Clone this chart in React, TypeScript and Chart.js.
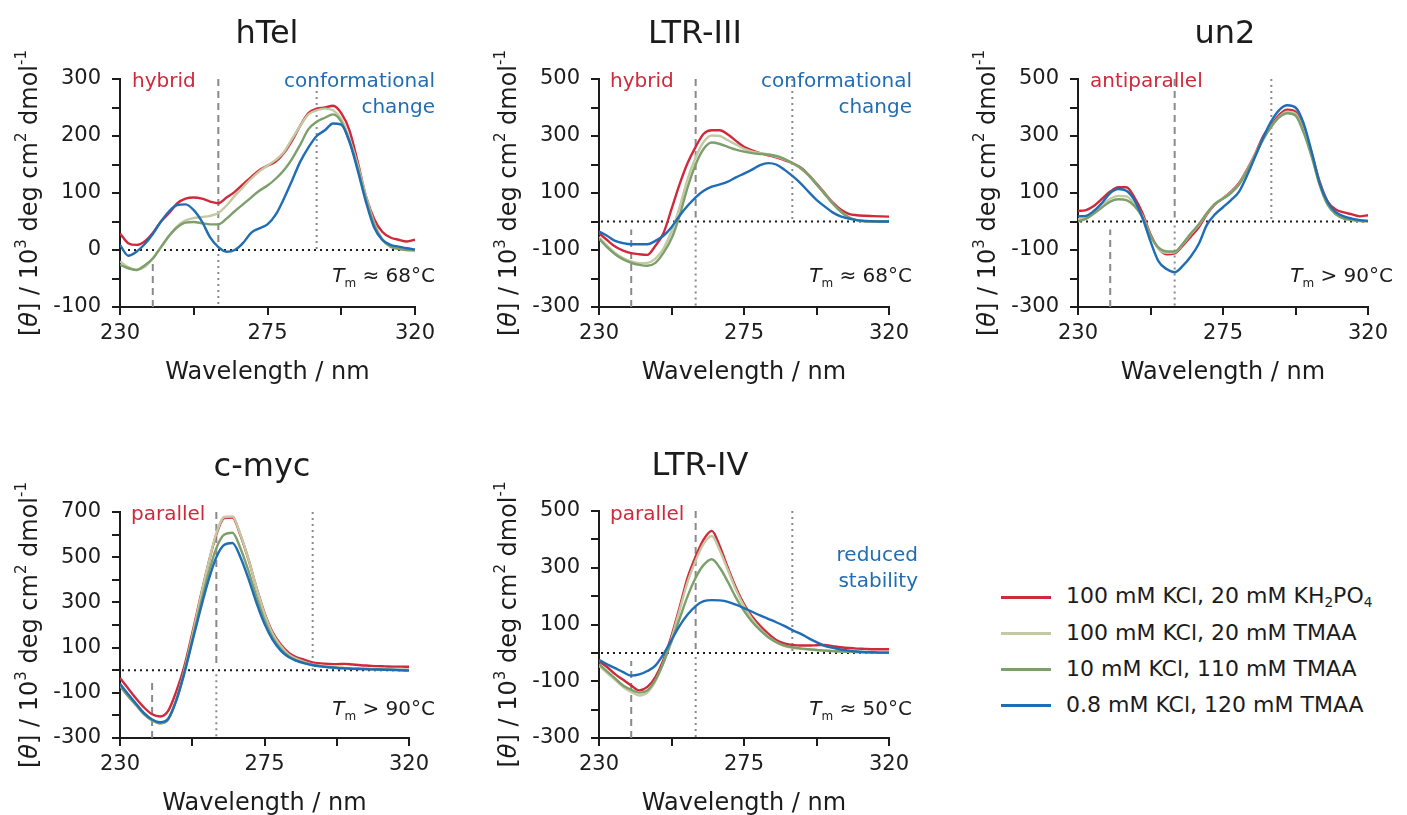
import React, { useEffect, useRef } from 'react';
import { Chart, registerables } from 'chart.js';

Chart.register(...registerables);

const FONT = '"DejaVu Sans", "Liberation Sans", sans-serif';
const INK = '#1c1c1c';
const GUIDE = '#8a8a8a';
const RED_TXT = '#d0293b';
const BLUE_TXT = '#1f6db5';

// ---------- data ----------
const WAVELENGTH = [230, 232.5, 235, 237.5, 240, 242.5, 245, 247.5, 250, 252.5, 255, 257.5, 260, 262.5, 265, 267.5, 270, 272.5, 275, 277.5, 280, 282.5, 285, 287.5, 290, 292.5, 295, 297.5, 300, 302.5, 305, 307.5, 310, 312.5, 315, 317.5, 320];

const SERIES_LABELS = ['100 mM KCl, 20 mM KH_2PO_4', '100 mM KCl, 20 mM TMAA', '10 mM KCl, 110 mM TMAA', '0.8 mM KCl, 120 mM TMAA'];
const SERIES_COLORS = ['#d0293b', '#c3c9a2', '#7c9f6c', '#1f6db5'];

// hTel
const HTEL_KH2PO4 = [29, 12, 9, 15, 30, 50, 65, 82, 90, 92, 90, 85, 82, 92, 102, 115, 128, 140, 148, 155, 170, 192, 218, 240, 248, 250, 253, 240, 210, 155, 95, 55, 32, 22, 18, 15, 18];
const HTEL_TMAA20 = [-20, -30, -35, -30, -15, 5, 25, 42, 52, 56, 58, 60, 65, 78, 95, 110, 125, 138, 148, 158, 172, 195, 218, 238, 245, 248, 245, 230, 195, 150, 95, 48, 20, 8, 2, 0, -2];
const HTEL_TMAA110 = [-26, -32, -35, -27, -15, 5, 25, 40, 48, 49, 47, 45, 45, 55, 68, 80, 92, 104, 113, 125, 140, 160, 185, 212, 225, 232, 238, 225, 190, 145, 90, 45, 18, 6, 2, 0, 0];
const HTEL_TMAA120 = [9, -10, -3, 10, 28, 50, 68, 79, 80, 70, 50, 22, 5, -3, 0, 12, 30, 38, 45, 62, 90, 122, 155, 180, 200, 210, 222, 220, 190, 140, 85, 40, 18, 9, 6, 3, 1];

// LTR-III
const LTR3_KH2PO4 = [-41, -65, -88, -102, -111, -115, -117, -85, -41, 43, 130, 205, 262, 308, 320, 320, 305, 283, 262, 250, 240, 232, 225, 215, 205, 190, 165, 133, 100, 67, 42, 27, 22, 20, 19, 18, 17];
const LTR3_TMAA20 = [-55, -85, -110, -128, -140, -146, -145, -130, -95, -35, 50, 150, 225, 280, 302, 300, 285, 270, 255, 245, 240, 235, 228, 218, 205, 188, 163, 130, 97, 63, 35, 15, 5, 1, 0, 0, 0];
const LTR3_TMAA110 = [-60, -90, -115, -133, -145, -152, -155, -145, -110, -60, 20, 120, 200, 255, 277, 272, 262, 252, 245, 240, 237, 235, 230, 220, 205, 188, 163, 130, 97, 63, 35, 15, 5, 1, 0, 0, 0];
const LTR3_TMAA120 = [-35, -50, -68, -76, -80, -80, -80, -68, -50, -20, 20, 55, 85, 108, 122, 130, 140, 155, 168, 182, 198, 205, 200, 182, 160, 135, 105, 76, 53, 32, 18, 10, 5, 2, 1, 0, 0];

// un2
const UN2_KH2PO4 = [37, 40, 55, 80, 105, 120, 120, 85, 30, -45, -95, -115, -112, -85, -53, -20, 25, 60, 82, 105, 135, 183, 238, 300, 338, 375, 392, 385, 325, 240, 140, 70, 42, 32, 25, 18, 22];
const UN2_TMAA20 = [8, 15, 35, 60, 80, 90, 88, 62, 20, -50, -95, -110, -108, -80, -45, -12, 28, 62, 82, 102, 132, 180, 235, 292, 333, 368, 385, 378, 318, 232, 132, 62, 30, 15, 8, 4, 3];
const UN2_TMAA110 = [0, 10, 28, 50, 70, 78, 75, 55, 15, -50, -92, -105, -105, -78, -42, -10, 30, 62, 80, 100, 130, 178, 232, 288, 333, 366, 380, 372, 313, 228, 128, 58, 25, 10, 5, 2, 0];
const UN2_TMAA120 = [18, 20, 38, 66, 100, 114, 108, 75, 13, -70, -140, -167, -178, -156, -123, -78, -12, 25, 50, 75, 105, 162, 228, 295, 352, 392, 408, 400, 345, 245, 135, 68, 33, 18, 10, 5, 2];

// c-myc
const CMYC_KH2PO4 = [-35, -80, -125, -165, -195, -205, -180, -95, 15, 163, 320, 470, 600, 673, 675, 597, 490, 366, 254, 169, 115, 78, 57, 46, 34, 30, 28, 27, 28, 25, 22, 20, 18, 17, 16, 16, 15];
const CMYC_TMAA20 = [-65, -110, -150, -190, -220, -235, -215, -130, -5, 150, 315, 470, 605, 678, 680, 600, 492, 365, 250, 162, 108, 70, 50, 36, 26, 20, 15, 12, 10, 8, 7, 6, 5, 4, 3, 2, 2];
const CMYC_TMAA110 = [-70, -115, -155, -195, -222, -235, -218, -135, -12, 135, 285, 425, 540, 600, 608, 540, 440, 325, 222, 145, 95, 62, 44, 32, 24, 18, 14, 11, 9, 7, 6, 5, 4, 3, 2, 1, 1];
const CMYC_TMAA120 = [-60, -105, -148, -190, -218, -230, -215, -135, -15, 125, 265, 395, 500, 555, 563, 500, 405, 298, 205, 135, 88, 58, 41, 30, 22, 17, 13, 10, 8, 6, 5, 4, 3, 2, 1, 0, -2];

// LTR-IV
const LTR4_KH2PO4 = [-30, -50, -75, -95, -115, -132, -120, -85, -25, 60, 160, 265, 340, 400, 430, 375, 300, 230, 172, 128, 95, 68, 45, 33, 28, 26, 26, 27, 28, 24, 20, 17, 15, 14, 13, 13, 13];
const LTR4_TMAA20 = [-45, -70, -95, -120, -138, -150, -140, -100, -35, 50, 150, 250, 325, 385, 412, 360, 292, 222, 165, 120, 85, 58, 38, 25, 18, 14, 12, 10, 8, 6, 5, 4, 3, 2, 2, 1, 1];
const LTR4_TMAA110 = [-40, -65, -90, -115, -130, -140, -132, -95, -35, 40, 120, 200, 265, 310, 330, 300, 250, 195, 148, 110, 80, 55, 38, 26, 20, 16, 13, 10, 8, 6, 5, 4, 3, 2, 2, 1, 1];
const LTR4_TMAA120 = [-25, -40, -54, -68, -80, -76, -64, -45, -5, 45, 95, 135, 165, 182, 186, 185, 180, 170, 158, 145, 132, 120, 108, 95, 80, 68, 52, 38, 25, 18, 12, 8, 5, 3, 2, 1, 1];

// ticks
const X_TICKS = [230, 252.5, 275, 297.5, 320];
const X_LABELS = [230, 275, 320];
const HTEL_Y_TICKS = [-100, -50, 0, 50, 100, 150, 200, 250, 300];
const HTEL_Y_LABELS = [-100, 0, 100, 200, 300];
const Y500_TICKS = [-300, -200, -100, 0, 100, 200, 300, 400, 500];
const Y500_LABELS = [-300, -100, 100, 300, 500];
const Y700_TICKS = [-300, -200, -100, 0, 100, 200, 300, 400, 500, 600, 700];
const Y700_LABELS = [-300, -100, 100, 300, 500, 700];

// reference wavelengths for guide lines
const DASHED_LOW = 240;
const DASHED_HIGH = 260;
const DOTTED_LOW = 260;
const DOTTED_HIGH = 290;

// ---------- text helpers ----------
type Seg = { t: string; it?: boolean; sub?: boolean; sup?: boolean };

function drawRich(ctx: CanvasRenderingContext2D, segs: Seg[], x: number, y: number, size: number, color: string, align: 'left' | 'right' | 'center') {
  const fontFor = (s: Seg) => `${s.it ? 'italic ' : ''}${s.sub || s.sup ? Math.round(size * 0.62) : size}px ${FONT}`;
  let total = 0;
  for (const s of segs) {
    ctx.font = fontFor(s);
    total += ctx.measureText(s.t).width;
  }
  let cx = align === 'left' ? x : align === 'right' ? x - total : x - total / 2;
  ctx.fillStyle = color;
  ctx.textAlign = 'left';
  ctx.textBaseline = 'alphabetic';
  for (const s of segs) {
    ctx.font = fontFor(s);
    const dy = s.sub ? size * 0.24 : s.sup ? -size * 0.45 : 0;
    ctx.fillText(s.t, cx, y + dy);
    cx += ctx.measureText(s.t).width;
  }
}

const Y_TITLE: Seg[] = [
  { t: '[' }, { t: 'θ', it: true }, { t: '] / 10' }, { t: '3', sup: true },
  { t: ' deg cm' }, { t: '2', sup: true }, { t: ' dmol' }, { t: '-1', sup: true },
];

type Note = { segs: Seg[]; color: string; anchor: 'left' | 'right'; dx: number; dy: number };

const tm = (rest: string): Seg[] => [{ t: 'T', it: true }, { t: 'm', sub: true }, { t: rest }];

type Panel = {
  key: string; title: string; series: number[][];
  yMin: number; yMax: number; yTicks: number[]; yLabels: number[];
  L: number; T: number; W: number; H: number; titleX: number; notes: Note[];
};

const PANELS: Panel[] = [
  {
    key: 'htel', title: 'hTel', series: [HTEL_KH2PO4, HTEL_TMAA20, HTEL_TMAA110, HTEL_TMAA120],
    yMin: -100, yMax: 300, yTicks: HTEL_Y_TICKS, yLabels: HTEL_Y_LABELS,
    L: 120, T: 79, W: 295, H: 228, titleX: 267,
    notes: [
      { segs: [{ t: 'hybrid' }], color: RED_TXT, anchor: 'left', dx: 12, dy: 8 },
      { segs: [{ t: 'conformational' }], color: BLUE_TXT, anchor: 'right', dx: 20, dy: 8 },
      { segs: [{ t: 'change' }], color: BLUE_TXT, anchor: 'right', dx: 20, dy: 34 },
      { segs: tm(' ≈ 68°C'), color: INK, anchor: 'right', dx: 20, dy: 203 },
    ],
  },
  {
    key: 'ltr3', title: 'LTR-III', series: [LTR3_KH2PO4, LTR3_TMAA20, LTR3_TMAA110, LTR3_TMAA120],
    yMin: -300, yMax: 500, yTicks: Y500_TICKS, yLabels: Y500_LABELS,
    L: 599, T: 79, W: 290, H: 228, titleX: 695,
    notes: [
      { segs: [{ t: 'hybrid' }], color: RED_TXT, anchor: 'left', dx: 11, dy: 8 },
      { segs: [{ t: 'conformational' }], color: BLUE_TXT, anchor: 'right', dx: 23, dy: 8 },
      { segs: [{ t: 'change' }], color: BLUE_TXT, anchor: 'right', dx: 23, dy: 34 },
      { segs: tm(' ≈ 68°C'), color: INK, anchor: 'right', dx: 23, dy: 203 },
    ],
  },
  {
    key: 'un2', title: 'un2', series: [UN2_KH2PO4, UN2_TMAA20, UN2_TMAA110, UN2_TMAA120],
    yMin: -300, yMax: 500, yTicks: Y500_TICKS, yLabels: Y500_LABELS,
    L: 1078, T: 79, W: 290, H: 228, titleX: 1225,
    notes: [
      { segs: [{ t: 'antiparallel' }], color: RED_TXT, anchor: 'left', dx: 12, dy: 8 },
      { segs: tm(' > 90°C'), color: INK, anchor: 'right', dx: 25, dy: 203 },
    ],
  },
  {
    key: 'cmyc', title: 'c-myc', series: [CMYC_KH2PO4, CMYC_TMAA20, CMYC_TMAA110, CMYC_TMAA120],
    yMin: -300, yMax: 700, yTicks: Y700_TICKS, yLabels: Y700_LABELS,
    L: 120, T: 512, W: 289, H: 226, titleX: 262,
    notes: [
      { segs: [{ t: 'parallel' }], color: RED_TXT, anchor: 'left', dx: 11, dy: 8 },
      { segs: tm(' > 90°C'), color: INK, anchor: 'right', dx: 26, dy: 203 },
    ],
  },
  {
    key: 'ltr4', title: 'LTR-IV', series: [LTR4_KH2PO4, LTR4_TMAA20, LTR4_TMAA110, LTR4_TMAA120],
    yMin: -300, yMax: 500, yTicks: Y500_TICKS, yLabels: Y500_LABELS,
    L: 599, T: 511, W: 290, H: 227, titleX: 700,
    notes: [
      { segs: [{ t: 'parallel' }], color: RED_TXT, anchor: 'left', dx: 11, dy: 9 },
      { segs: [{ t: 'reduced' }], color: BLUE_TXT, anchor: 'right', dx: 29, dy: 50 },
      { segs: [{ t: 'stability' }], color: BLUE_TXT, anchor: 'right', dx: 29, dy: 76 },
      { segs: tm(' ≈ 50°C'), color: INK, anchor: 'right', dx: 23, dy: 204 },
    ],
  },
];

const PAD_L = 40;
const Y_AXIS_W = 80;
const PAD_T = 79;
const PAD_R = 40;
const PAD_B = 95;
const X_AXIS_H = 40;
const LEGEND_Y = [597, 633, 669, 705];

function makePlugin(p: Panel) {
  return {
    id: 'deco_' + p.key,
    beforeDatasetsDraw(chart: any) {
      const { ctx, chartArea: a, scales } = chart;
      const x = scales.x, y = scales.y;
      const seg = (x1: number, y1: number, x2: number, y2: number) => {
        ctx.beginPath(); ctx.moveTo(x1, y1); ctx.lineTo(x2, y2); ctx.stroke();
      };
      ctx.save();
      ctx.beginPath();
      ctx.rect(a.left, a.top, a.right - a.left, a.bottom - a.top);
      ctx.clip();
      const y0 = y.getPixelForValue(0);
      ctx.lineWidth = 2;
      ctx.lineCap = 'butt';
      ctx.strokeStyle = INK;
      ctx.setLineDash([2, 4]);
      seg(a.left + 2, y0, a.right, y0);
      ctx.strokeStyle = GUIDE;
      ctx.setLineDash([7, 5]);
      const xl = x.getPixelForValue(DASHED_LOW);
      const xh = x.getPixelForValue(DASHED_HIGH);
      seg(xl, a.bottom, xl, y0 + 8);
      seg(xh, a.top, xh, y0 - 4);
      ctx.setLineDash([2, 4]);
      const dl = x.getPixelForValue(DOTTED_LOW);
      const dh = x.getPixelForValue(DOTTED_HIGH);
      seg(dl, y0 + 4, dl, a.bottom);
      seg(dh, a.top, dh, y0);
      ctx.restore();
    },
    afterDraw(chart: any) {
      const { ctx, chartArea: a } = chart;
      const ox = p.L - PAD_L - Y_AXIS_W;
      ctx.save();
      ctx.fillStyle = INK;
      ctx.textAlign = 'center';
      ctx.textBaseline = 'alphabetic';
      ctx.font = `32px ${FONT}`;
      ctx.fillText(p.title, p.titleX - ox, a.top - 36);
      ctx.font = `24px ${FONT}`;
      ctx.fillText('Wavelength / nm', (a.left + a.right) / 2, a.bottom + 72);
      for (const n of p.notes) {
        const xx = n.anchor === 'left' ? a.left + n.dx : a.right + n.dx;
        drawRich(ctx, n.segs, xx, a.top + n.dy, 20, n.color, n.anchor);
      }
      ctx.translate(a.left - 83, (a.top + a.bottom) / 2);
      ctx.rotate(-Math.PI / 2);
      drawRich(ctx, Y_TITLE, 0, 0, 24, INK, 'center');
      ctx.restore();
    },
  };
}

function buildConfig(p: Panel): any {
  const datasets = p.series
    .map((arr, i) => ({
      label: SERIES_LABELS[i],
      data: WAVELENGTH.map((x, j) => ({ x, y: arr[j] })),
      borderColor: SERIES_COLORS[i],
      backgroundColor: SERIES_COLORS[i],
      borderWidth: 2.4,
      pointRadius: 0,
      fill: false,
      cubicInterpolationMode: 'monotone',
    }))
    .reverse();
  const axisCommon = {
    grid: { drawOnChartArea: false, drawTicks: true, tickLength: 8, color: INK, lineWidth: 2 },
    border: { display: true, color: INK, width: 2 },
  };
  return {
    type: 'line',
    data: { datasets },
    options: {
      responsive: false,
      animation: false,
      devicePixelRatio: 1,
      events: [],
      layout: { padding: { left: PAD_L, top: PAD_T, right: PAD_R, bottom: PAD_B - X_AXIS_H } },
      plugins: { legend: { display: false }, tooltip: { enabled: false }, title: { display: false } },
      scales: {
        x: {
          type: 'linear', min: 230, max: 320,
          afterBuildTicks: (s: any) => { s.ticks = X_TICKS.map((v) => ({ value: v })); },
          afterFit: (s: any) => { s.height = X_AXIS_H; },
          ticks: {
            callback: (v: number) => (X_LABELS.includes(v) ? String(v) : ''),
            autoSkip: false, maxRotation: 0, minRotation: 0,
            font: { family: FONT, size: 21 }, color: INK, padding: 6,
          },
          ...axisCommon,
        },
        y: {
          type: 'linear', min: p.yMin, max: p.yMax,
          afterBuildTicks: (s: any) => { s.ticks = p.yTicks.map((v) => ({ value: v })); },
          afterFit: (s: any) => { s.width = Y_AXIS_W; },
          ticks: {
            callback: (v: number) => (p.yLabels.includes(v) ? String(v) : ''),
            autoSkip: false,
            font: { family: FONT, size: 21 }, color: INK, padding: 11,
          },
          ...axisCommon,
        },
      },
    },
    plugins: [makePlugin(p)],
  };
}

function PanelChart({ p }: { p: Panel }) {
  const ref = useRef<HTMLCanvasElement>(null);
  const cw = PAD_L + Y_AXIS_W + p.W + PAD_R;
  const ch = PAD_T + p.H + PAD_B;
  useEffect(() => {
    if (!ref.current) return;
    const chart = new Chart(ref.current, buildConfig(p));
    return () => chart.destroy();
  }, [p]);
  return (
    <canvas
      ref={ref}
      width={cw}
      height={ch}
      style={{ position: 'absolute', left: p.L - PAD_L - Y_AXIS_W, top: p.T - PAD_T, width: cw, height: ch, display: 'block' }}
    />
  );
}

function renderLabel(lab: string) {
  const parts = lab.split(/_(\d)/);
  return parts.map((s, i) =>
    i % 2 === 1 ? (
      <span key={i} style={{ fontSize: '0.62em', position: 'relative', top: '0.3em' }}>{s}</span>
    ) : (
      <span key={i}>{s}</span>
    ),
  );
}

function Legend() {
  return (
    <>
      {SERIES_LABELS.map((lab, i) => (
        <div
          key={lab}
          style={{
            position: 'absolute', left: 1001, top: LEGEND_Y[i] - 16, height: 32,
            display: 'flex', alignItems: 'center', whiteSpace: 'nowrap',
            fontFamily: FONT, fontSize: 22, color: INK, lineHeight: '32px',
          }}
        >
          <span style={{ display: 'inline-block', width: 50, height: 3, background: SERIES_COLORS[i], marginRight: 15 }} />
          <span>{renderLabel(lab)}</span>
        </div>
      ))}
    </>
  );
}

export default function App() {
  return (
    <div style={{ position: 'absolute', left: 0, top: 0, width: 1407, height: 815, overflow: 'hidden', background: '#fff' }}>
      {PANELS.map((p) => (
        <PanelChart key={p.key} p={p} />
      ))}
      <Legend />
    </div>
  );
}
